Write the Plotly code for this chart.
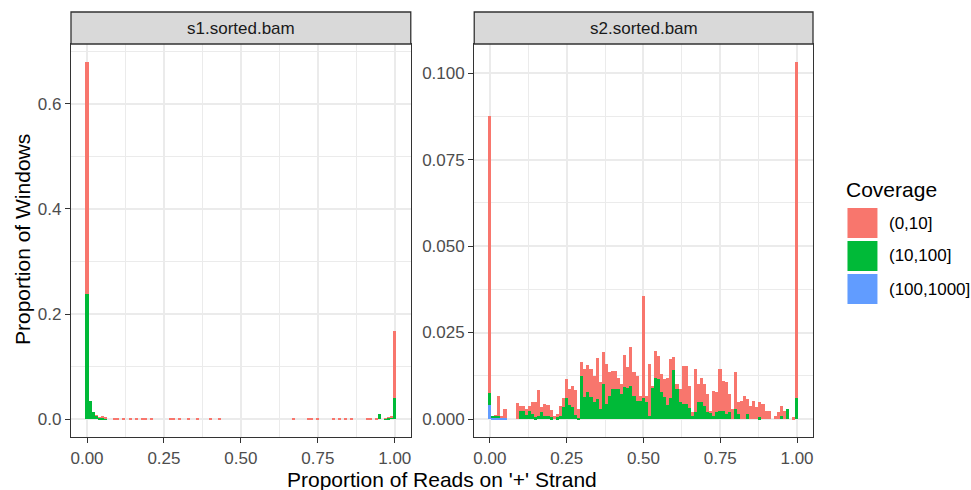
import plotly.graph_objects as go

# ---------------- data (proportion of windows per 0.01-wide bin, bins centred at 0.00 .. 1.00) ----------------
bin_width = 0.01
bin_centers = [round(k * bin_width, 2) for k in range(101)]

coverage_levels = ["(0,10]", "(10,100]", "(100,1000]"]
coverage_colors = ["#F8766D", "#00BA38", "#619CFF"]
panel_titles = ["s1.sorted.bam", "s2.sorted.bam"]

s1_cov_0_10 = [
    0.441, 0, 0, 0.0005, 0.0015, 0.002, 0.004, 0, 0, 0.0018,
    0.0018, 0, 0.0018, 0, 0.0018, 0, 0.0018, 0, 0.0018, 0.0018,
    0, 0.0018, 0, 0, 0, 0, 0, 0.0018, 0.0018, 0,
    0.0018, 0, 0, 0.0018, 0, 0, 0.0018, 0, 0, 0,
    0.0018, 0, 0, 0.0018, 0, 0, 0, 0, 0, 0,
    0, 0, 0, 0, 0, 0, 0, 0, 0, 0,
    0, 0, 0, 0, 0, 0, 0, 0.0018, 0, 0,
    0, 0, 0.0018, 0.0018, 0, 0.0018, 0, 0, 0, 0,
    0.0018, 0, 0.0018, 0, 0.0018, 0, 0.0018, 0, 0, 0,
    0, 0.0018, 0.0018, 0, 0.0018, 0, 0, 0.0005, 0.0005, 0.001,
    0.126,
]
s1_cov_10_100 = [
    0.238, 0.035, 0.0145, 0.006, 0.0025, 0.003, 0.001, 0, 0, 0,
    0, 0, 0, 0, 0, 0, 0, 0, 0, 0,
    0, 0, 0, 0, 0, 0, 0, 0, 0, 0,
    0, 0, 0, 0, 0, 0, 0, 0, 0, 0,
    0, 0, 0, 0, 0, 0, 0, 0, 0, 0,
    0, 0, 0, 0, 0, 0, 0, 0, 0, 0,
    0, 0, 0, 0, 0, 0, 0, 0, 0, 0,
    0, 0, 0, 0, 0, 0, 0, 0, 0, 0,
    0, 0, 0, 0, 0, 0, 0, 0, 0, 0,
    0, 0, 0, 0, 0, 0.009, 0, 0.001, 0.003, 0.004,
    0.041,
]
s1_cov_100_1000 = [
    0, 0, 0, 0, 0, 0, 0, 0, 0, 0,
    0, 0, 0, 0, 0, 0, 0, 0, 0, 0,
    0, 0, 0, 0, 0, 0, 0, 0, 0, 0,
    0, 0, 0, 0, 0, 0, 0, 0, 0, 0,
    0, 0, 0, 0, 0, 0, 0, 0, 0, 0,
    0, 0, 0, 0, 0, 0, 0, 0, 0, 0,
    0, 0, 0, 0, 0, 0, 0, 0, 0, 0,
    0, 0, 0, 0, 0, 0, 0, 0, 0, 0,
    0, 0, 0, 0, 0, 0, 0, 0, 0, 0,
    0, 0, 0, 0, 0, 0, 0, 0, 0, 0,
    0,
]

s2_cov_0_10 = [
    0.0800, 0, 0.0001, 0.0059, 0.0001, 0.0026, 0, 0, 0, 0.0046,
    0.0013, 0.0013, 0.0018, 0.0013, 0.0036, 0.0045, 0.0077, 0.0013, 0.0035, 0.0032,
    0.0020, 0.0008, 0.0010, 0.0030, 0.0025, 0.0056, 0.0047, 0.0062, 0.0073, 0.0024,
    0.0039, 0.0083, 0.0079, 0.0082, 0.0077, 0.0117, 0.0077, 0.0094, 0.0116, 0.0068,
    0.0053, 0.0053, 0.0033, 0.0029, 0.0093, 0.0060, 0.0111, 0.0068, 0.0072, 0.0014,
    0.0295, 0.0019, 0.0149, 0.0006, 0.0079, 0.0067, 0.0053, 0.0053, 0.0080, 0.0113,
    0.0035, 0.0014, 0.0039, 0.0111, 0.0111, 0.0063, 0.0010, 0.0126, 0.0051, 0.0072,
    0.0063, 0.0053, 0.0005, 0.0070, 0.0058, 0.0121, 0.0086, 0.0092, 0.0053, 0.0030,
    0.0108, 0.0034, 0.0053, 0.0067, 0.0044, 0.0039, 0.0053, 0.0034, 0.0045, 0.0043,
    0.0024, 0.0024, 0, 0.0010, 0.0020, 0.0029, 0.0024, 0, 0, 0.0005,
    0.0972,
]
s2_cov_10_100 = [
    0.0034, 0.0001, 0.0005, 0.0004, 0, 0, 0, 0, 0, 0,
    0.0024, 0.0024, 0.0011, 0.0024, 0.0014, 0.0005, 0.0008, 0.0021, 0.0008, 0.0008,
    0.0005, 0, 0.0005, 0.0008, 0.0035, 0.0060, 0.0040, 0.0034, 0.0012, 0.0004,
    0.0125, 0.0063, 0.0077, 0.0063, 0.0048, 0.0058, 0.0029, 0.0101, 0.0043, 0.0067,
    0.0087, 0.0087, 0.0087, 0.0072, 0.0092, 0.0090, 0.0096, 0.0067, 0.0053, 0.0053,
    0.0060, 0.0048, 0.0010, 0.0090, 0.0118, 0.0116, 0.0077, 0.0063, 0.0040, 0.0060,
    0.0143, 0.0087, 0.0048, 0.0043, 0.0043, 0.0033, 0.0010, 0.0020, 0.0050, 0.0048,
    0.0038, 0.0019, 0.0019, 0.0010, 0.0019, 0.0024, 0.0024, 0.0014, 0.0019, 0,
    0.0029, 0.0014, 0, 0, 0.0014, 0, 0, 0, 0.0005, 0,
    0, 0, 0, 0, 0, 0.0010, 0, 0.0029, 0, 0,
    0.0060,
]
s2_cov_100_1000 = [
    0.0041, 0.0005, 0.0004, 0.0004, 0.0005, 0.0004, 0, 0, 0, 0,
    0, 0, 0, 0, 0, 0, 0, 0, 0, 0,
    0, 0, 0, 0, 0, 0, 0, 0, 0, 0,
    0, 0, 0, 0, 0, 0, 0, 0, 0, 0,
    0, 0, 0, 0, 0, 0, 0, 0, 0, 0,
    0, 0, 0, 0, 0, 0, 0, 0, 0, 0,
    0, 0, 0, 0, 0, 0, 0, 0, 0, 0,
    0, 0, 0, 0, 0, 0, 0, 0, 0, 0,
    0, 0, 0, 0, 0, 0, 0, 0, 0, 0,
    0, 0, 0, 0, 0, 0, 0, 0, 0, 0,
    0,
]

x_tick_vals = [0, 0.25, 0.5, 0.75, 1.0]
x_tick_text = ["0.00", "0.25", "0.50", "0.75", "1.00"]
x_minor_vals = [0.125, 0.375, 0.625, 0.875]
y1_tick_vals = [0, 0.2, 0.4, 0.6]
y1_tick_text = ["0.0", "0.2", "0.4", "0.6"]
y1_minor_vals = [0.1, 0.3, 0.5, 0.7]
y2_tick_vals = [0, 0.025, 0.05, 0.075, 0.1]
y2_tick_text = ["0.000", "0.025", "0.050", "0.075", "0.100"]
y2_minor_vals = [0.0125, 0.0375, 0.0625, 0.0875]

x_title = "Proportion of Reads on '+' Strand"
y_title = "Proportion of Windows"
legend_title = "Coverage"

# ---------------- layout geometry (pixels) ----------------
W, H = 971, 490
ML, MR, MT, MB = 71, 157.5, 44, 53
PW, PH = W - ML - MR, H - MT - MB


def px_x(p):
    return (p - ML) / PW


def px_y(p):
    return (H - MB - p) / PH


FONT = "Liberation Sans, Arial, Helvetica, sans-serif"
GRID = "#EBEBEB"
BORDER = "#333333"
TICK_SIZE = 17
TITLE_SIZE = 21

fig = go.Figure()

panels = [
    ("x", "y", [s1_cov_0_10, s1_cov_10_100, s1_cov_100_1000]),
    ("x2", "y2", [s2_cov_0_10, s2_cov_10_100, s2_cov_100_1000]),
]
for xa, ya, series in panels:
    # stack from bottom: (100,1000], (10,100], (0,10]
    for idx in [2, 1, 0]:
        fig.add_trace(go.Bar(
            x=bin_centers, y=series[idx], width=bin_width,
            marker=dict(color=coverage_colors[idx], line=dict(width=0)),
            name=coverage_levels[idx], xaxis=xa, yaxis=ya, showlegend=False,
            hoverinfo="x+y+name",
        ))

dom1 = [0, px_x(411)]
dom2 = [px_x(474.5), 1]

common_x = dict(
    tickvals=x_tick_vals, ticktext=x_tick_text, ticks="outside", ticklen=5,
    tickwidth=1.3, tickcolor=BORDER, showline=True, mirror=True, linecolor=BORDER,
    linewidth=1.3, showgrid=True, gridcolor=GRID, gridwidth=1.6, zeroline=False,
    tickfont=dict(family=FONT, size=TICK_SIZE, color="#4D4D4D"), automargin=False,
    minor=dict(tickvals=x_minor_vals, showgrid=True, gridcolor=GRID, gridwidth=0.8, ticks=""),
)
common_y = dict(
    ticks="outside", ticklen=5, tickwidth=1.3, tickcolor=BORDER, showline=True,
    mirror=True, linecolor=BORDER, linewidth=1.3, showgrid=True, gridcolor=GRID,
    gridwidth=1.6, zeroline=False, automargin=False,
    tickfont=dict(family=FONT, size=TICK_SIZE, color="#4D4D4D"),
)

fig.update_layout(
    width=W, height=H, margin=dict(l=ML, r=MR, t=MT, b=MB, pad=0),
    paper_bgcolor="white", plot_bgcolor="white",
    barmode="stack", bargap=0, showlegend=False,
    xaxis=dict(domain=dom1, range=[-0.052, 1.052], anchor="y", **common_x),
    xaxis2=dict(domain=dom2, range=[-0.051, 1.052], anchor="y2", **common_x),
    yaxis=dict(domain=[0, 1], range=[-0.034, 0.714], anchor="x",
               tickvals=y1_tick_vals, ticktext=y1_tick_text,
               minor=dict(tickvals=y1_minor_vals, showgrid=True, gridcolor=GRID, gridwidth=0.8, ticks=""),
               **common_y),
    yaxis2=dict(domain=[0, 1], range=[-0.0052, 0.1084], anchor="x2",
                tickvals=y2_tick_vals, ticktext=y2_tick_text,
                minor=dict(tickvals=y2_minor_vals, showgrid=True, gridcolor=GRID, gridwidth=0.8, ticks=""),
                **common_y),
)

shapes = []
annotations = []

# facet strips
for dom, title in zip([dom1, dom2], panel_titles):
    shapes.append(dict(type="rect", xref="paper", yref="paper", x0=dom[0], x1=dom[1],
                       y0=1, y1=px_y(12), fillcolor="#D9D9D9",
                       line=dict(color=BORDER, width=1.3), layer="above"))
    annotations.append(dict(text=title, xref="paper", yref="paper", x=(dom[0] + dom[1]) / 2,
                            y=px_y(28.5), xanchor="center", yanchor="middle", showarrow=False,
                            font=dict(family=FONT, size=TICK_SIZE, color="#1A1A1A")))

# axis titles
annotations.append(dict(text=x_title, xref="paper", yref="paper", x=px_x(442), y=px_y(479),
                        xanchor="center", yanchor="middle", showarrow=False,
                        font=dict(family=FONT, size=TITLE_SIZE, color="black")))
annotations.append(dict(text=y_title, xref="paper", yref="paper", x=px_x(22), y=px_y(240),
                        xanchor="center", yanchor="middle", showarrow=False, textangle=-90,
                        font=dict(family=FONT, size=TITLE_SIZE, color="black")))

# legend (drawn manually to mimic ggplot key size)
annotations.append(dict(text=legend_title, xref="paper", yref="paper", x=px_x(845), y=px_y(189),
                        xanchor="left", yanchor="middle", showarrow=False,
                        font=dict(family=FONT, size=TITLE_SIZE, color="black")))
key_tops = [208, 241, 274]
for top, lab, col in zip(key_tops, coverage_levels, coverage_colors):
    shapes.append(dict(type="rect", xref="paper", yref="paper", x0=px_x(848), x1=px_x(878),
                       y0=px_y(top + 30), y1=px_y(top), fillcolor=col, line=dict(width=0)))
    annotations.append(dict(text=lab, xref="paper", yref="paper", x=px_x(888), y=px_y(top + 15),
                            xanchor="left", yanchor="middle", showarrow=False,
                            font=dict(family=FONT, size=TICK_SIZE, color="black")))

fig.update_layout(shapes=shapes, annotations=annotations)
fig.write_html("out.html", config={"displayModeBar": False},
               post_script="document.body.style.margin='0';document.body.style.padding='0';")
